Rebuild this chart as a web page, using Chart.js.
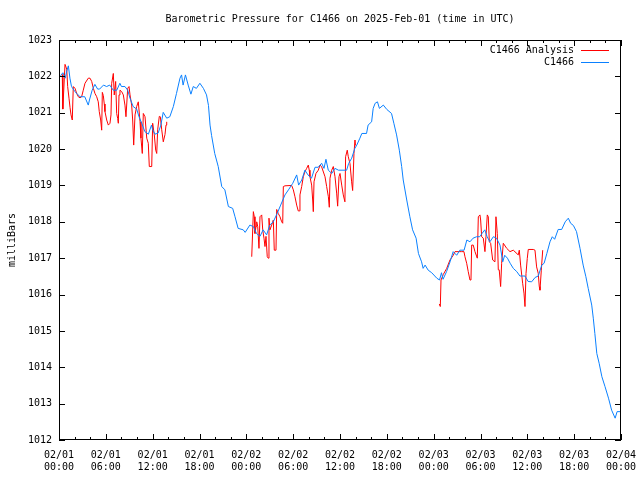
<!DOCTYPE html>
<html>
<head>
<meta charset="utf-8">
<script src="https://cdn.jsdelivr.net/npm/chart.js@4.4.1/dist/chart.umd.min.js"></script>
<style>
  body { margin: 0; background: #fff; }
  canvas { display: block; }
</style>
</head>
<body>
<canvas id="pressure" width="640" height="480"></canvas>
<script>
// hours since 2025-02-01 00:00 UTC, pressure in millibars
var titleText = "Barometric Pressure for C1466 on 2025-Feb-01 (time in UTC)";
var stationName = "C1466";
var analysisName = "C1466 Analysis";

var stationHours = [
  0.2, 0.5, 0.8, 1.0, 1.2, 1.4, 1.6, 2.05, 2.4, 2.7, 3.3, 3.75, 3.9, 4.25, 4.6, 4.95, 5.2, 5.7, 6.1, 6.5,
  6.95, 7.4, 7.8, 8.0, 8.45, 8.8, 9.1, 9.5, 9.95, 10.25, 10.6, 11.0, 11.45, 11.85, 12.0, 12.3, 12.7, 13.05, 13.35, 13.8,
  14.2, 14.65, 15.05, 15.5, 15.7, 15.9, 16.2, 16.55, 16.9, 17.2, 17.6, 18.05, 18.5, 18.9, 19.15, 19.35, 19.55, 19.95, 20.4, 20.85,
  21.25, 21.7, 22.25, 22.55, 22.95, 23.6, 23.85, 24.45, 24.9, 25.3, 25.75, 26.15, 26.6, 27.0, 27.45, 27.95, 28.4, 28.95, 29.4, 29.95,
  30.45, 30.7, 31.1, 31.5, 31.9, 32.35, 32.8, 33.2, 33.65, 33.95, 34.2, 34.5, 34.95, 35.35, 35.8, 36.85, 37.1, 37.5, 37.9, 38.15,
  38.55, 38.8, 39.4, 39.6, 40.05, 40.25, 40.5, 40.8, 41.05, 41.55, 42.0, 42.6, 42.9, 43.25, 43.6, 43.9, 44.1, 44.55, 44.95, 45.3,
  45.75, 46.05, 46.45, 46.65, 46.9, 47.3, 47.75, 48.4, 48.75, 49.0, 49.2, 49.65, 50.1, 50.5, 50.95, 51.35, 51.9, 52.25, 52.65, 53.05,
  53.5, 53.9, 54.2, 54.55, 54.85, 55.2, 55.65, 56.05, 56.5, 56.85, 57.1, 57.45, 57.8, 58.2, 58.65, 59.05, 59.7, 60.1, 60.55, 61.0,
  61.4, 61.85, 62.15, 62.5, 62.9, 63.2, 63.5, 63.95, 64.4, 64.85, 65.25, 65.55, 65.9, 66.3, 66.75, 67.15, 67.5, 67.8, 68.25, 68.45,
  68.65, 68.9, 69.2, 69.55, 69.95, 70.4, 70.8, 71.25, 71.5, 72.0
];
var stationPressure = [
  1022.02, 1022.10, 1021.95, 1022.15, 1022.29, 1021.95, 1021.72, 1021.58, 1021.50, 1021.44, 1021.44, 1021.21, 1021.35, 1021.62, 1021.78, 1021.65, 1021.65, 1021.76, 1021.72, 1021.76,
  1021.62, 1021.62, 1021.81, 1021.72, 1021.72, 1021.62, 1021.40, 1021.17, 1021.10, 1020.89, 1020.71, 1020.48, 1020.41, 1020.66, 1020.53, 1020.41, 1020.44, 1020.66, 1021.01, 1020.85,
  1020.89, 1021.17, 1021.53, 1021.95, 1022.04, 1021.76, 1022.04, 1021.76, 1021.51, 1021.72, 1021.67, 1021.81, 1021.67, 1021.49, 1021.20, 1020.66, 1020.37, 1019.88, 1019.52, 1018.97,
  1018.88, 1018.42, 1018.37, 1018.14, 1017.82, 1017.78, 1017.71, 1017.91, 1017.87, 1017.68, 1017.60, 1017.78, 1017.64, 1017.91, 1018.00, 1018.23, 1018.46, 1018.74, 1018.88, 1019.06,
  1019.29, 1019.01, 1019.15, 1019.42, 1019.29, 1019.20, 1019.50, 1019.50, 1019.61, 1019.47, 1019.72, 1019.42, 1019.33, 1019.47, 1019.42, 1019.42, 1019.60, 1019.75, 1020.02, 1020.11,
  1020.30, 1020.43, 1020.43, 1020.66, 1020.75, 1021.12, 1021.26, 1021.30, 1021.12, 1021.21, 1021.09, 1020.98, 1020.71, 1020.39, 1019.97, 1019.52, 1019.15, 1018.60, 1018.14, 1017.78,
  1017.55, 1017.13, 1016.90, 1016.72, 1016.81, 1016.67, 1016.60, 1016.45, 1016.40, 1016.60, 1016.42, 1016.63, 1016.90, 1017.18, 1017.08, 1017.22, 1017.22, 1017.50, 1017.45, 1017.55,
  1017.59, 1017.59, 1017.68, 1017.78, 1017.59, 1017.45, 1017.59, 1017.55, 1017.36, 1016.90, 1017.08, 1017.00, 1016.86, 1016.72, 1016.63, 1016.51, 1016.51, 1016.36, 1016.35, 1016.47,
  1016.51, 1016.81, 1016.86, 1017.13, 1017.45, 1017.59, 1017.52, 1017.79, 1017.79, 1018.00, 1018.10, 1017.96, 1017.90, 1017.73, 1017.27, 1016.81, 1016.49, 1016.17, 1015.71, 1015.35,
  1014.93, 1014.38, 1014.11, 1013.74, 1013.47, 1013.15, 1012.82, 1012.60, 1012.78, 1012.78
];

// analysis only exists in three windows; null breaks the line between them
var analysisHours = [
  0.42, 0.49, 0.77, 0.99, 1.11, 1.28, 1.41, 1.54, 1.7, 1.83, 2.05, 2.27, 2.47, 2.69, 2.9, 3.11, 3.33, 3.75, 3.97, 4.19,
  4.4, 4.61, 4.83, 5.03, 5.16, 5.34, 5.47, 5.55, 5.68, 5.8, 5.89, 6.11, 6.32, 6.53, 6.66, 6.75, 6.96, 7.08, 7.26, 7.39,
  7.52, 7.6, 7.69, 7.81, 8.03, 8.24, 8.45, 8.58, 8.8, 8.97, 9.1, 9.31, 9.44, 9.57, 9.74, 9.95, 10.16, 10.38, 10.5, 10.67,
  10.8, 11.02, 11.24, 11.44, 11.57, 11.88, 12.0, 12.21, 12.39, 12.52, 12.64, 12.85, 12.98, 13.16, 13.36, 13.58, 13.71, 13.8,
  19.0,
  24.69, 24.77, 24.9, 25.02, 25.11, 25.24, 25.33, 25.46, 25.62, 25.75, 25.97, 26.1, 26.26, 26.39, 26.52, 26.68, 26.81, 26.9, 27.03, 27.25,
  27.46, 27.58, 27.8, 27.89, 28.09, 28.31, 28.53, 28.66, 28.74, 28.95, 29.81, 30.02, 30.23, 30.45, 30.65, 30.78, 30.87, 31.09, 31.3, 31.51,
  31.73, 31.94, 32.06, 32.15, 32.37, 32.5, 32.58, 32.67, 32.92, 33.22, 33.44, 33.65, 34.08, 34.29, 34.51, 34.63, 34.72, 34.94, 35.14, 35.36,
  35.57, 35.7, 35.87, 36.0, 36.22, 36.42, 36.63, 36.72, 36.93, 37.06, 37.28, 37.49, 37.62, 37.79, 37.92, 37.98,
  43.0,
  48.72, 48.85, 48.94, 49.23, 49.67, 50.09, 50.51, 50.73, 51.59, 51.88, 52.01, 52.23, 52.43, 52.65, 52.78, 52.87, 53.07, 53.29, 53.59, 53.72,
  53.93, 54.02, 54.15, 54.36, 54.57, 54.7, 54.87, 55.0, 55.13, 55.3, 55.56, 55.85, 55.98, 56.15, 56.28, 56.4, 56.58, 56.71, 56.92, 57.36,
  57.78, 58.2, 58.84, 58.97, 59.14, 59.4, 59.57, 59.7, 59.83, 59.99, 60.12, 60.76, 60.98, 61.19, 61.4, 61.53, 61.62, 61.79, 61.97
];
var analysisPressure = [
  1022.05, 1021.10, 1022.33, 1022.20, 1021.72, 1021.40, 1021.15, 1020.94, 1020.80, 1021.72, 1021.67, 1021.53, 1021.44, 1021.41, 1021.44, 1021.62, 1021.81, 1021.95, 1021.95, 1021.86,
  1021.67, 1021.53, 1021.44, 1021.30, 1021.03, 1020.80, 1020.52, 1021.56, 1021.47, 1021.24, 1021.03, 1020.80, 1020.66, 1020.71, 1020.94, 1021.81, 1022.08, 1021.49, 1021.86, 1020.98,
  1020.84, 1020.71, 1021.49, 1021.62, 1021.58, 1021.49, 1021.21, 1020.89, 1021.67, 1021.72, 1021.49, 1021.21, 1020.80, 1020.11, 1020.94, 1021.17, 1021.30, 1020.75, 1020.30, 1019.88,
  1020.98, 1020.89, 1020.30, 1020.16, 1019.52, 1019.52, 1020.71, 1020.39, 1019.97, 1019.88, 1020.53, 1020.90, 1020.89, 1020.53, 1020.20, 1020.40, 1020.66, 1020.75,
  null,
  1017.04, 1017.50, 1018.28, 1018.14, 1017.68, 1017.87, 1018.00, 1017.87, 1017.27, 1018.14, 1018.19, 1017.78, 1017.55, 1017.32, 1017.60, 1017.04, 1017.00, 1018.10, 1017.78, 1017.91,
  1018.05, 1017.22, 1017.22, 1018.34, 1018.23, 1018.14, 1018.00, 1017.96, 1018.97, 1018.99, 1019.00, 1018.88, 1018.69, 1018.46, 1018.30, 1018.30, 1018.74, 1018.97, 1019.24, 1019.38,
  1019.47, 1019.56, 1019.42, 1019.24, 1019.01, 1018.60, 1018.28, 1019.10, 1019.33, 1019.42, 1019.56, 1019.51, 1019.24, 1018.97, 1018.69, 1018.40, 1019.20, 1019.42, 1019.52, 1019.24,
  1018.79, 1018.43, 1019.24, 1019.33, 1019.01, 1018.74, 1018.55, 1019.79, 1019.97, 1019.79, 1019.60, 1019.10, 1018.86, 1019.88, 1020.25, 1020.10,
  null,
  1015.74, 1015.67, 1016.40, 1016.55, 1016.72, 1016.95, 1017.08, 1017.18, 1017.18, 1017.18, 1017.04, 1016.86, 1016.63, 1016.40, 1016.40, 1017.36, 1017.36, 1017.18, 1017.00, 1018.14,
  1018.19, 1018.05, 1017.59, 1017.55, 1017.18, 1017.59, 1018.19, 1018.14, 1017.45, 1017.41, 1016.95, 1016.90, 1018.14, 1017.68, 1016.68, 1016.68, 1016.22, 1016.86, 1017.41, 1017.27,
  1017.18, 1017.22, 1017.09, 1017.22, 1016.81, 1016.31, 1016.04, 1015.67, 1016.58, 1016.99, 1017.24, 1017.24, 1017.22, 1016.76, 1016.58, 1016.22, 1016.12, 1016.67, 1017.22
];

function toPoints(hours, values) {
  return hours.map(function (h, i) { return { x: h, y: values[i] }; });
}

function tickLabel(value) {
  if (value % 6 !== 0) return "";
  var day = 1 + Math.floor(value / 24);
  var hour = value % 24;
  return ["02/0" + day, (hour < 10 ? "0" : "") + hour + ":00"];
}

// gnuplot style frame: inward ticks on all four sides, mirrored
var framePlugin = {
  id: "frame",
  afterDatasetsDraw: function (chart) {
    var ctx = chart.ctx, a = chart.chartArea;
    var xs = chart.scales.x, ys = chart.scales.y;
    ctx.save();
    ctx.strokeStyle = "#000";
    ctx.lineWidth = 1;
    ctx.strokeRect(Math.round(a.left) + 0.5, Math.round(a.top) + 0.5,
      Math.round(a.right - a.left) - 1, Math.round(a.bottom - a.top) - 1);
    ctx.beginPath();
    xs.ticks.forEach(function (t) {
      var px = Math.round(xs.getPixelForValue(t.value)) + 0.5;
      var len = t.value % 6 === 0 ? 6 : 3;
      ctx.moveTo(px, a.bottom); ctx.lineTo(px, a.bottom - len);
      ctx.moveTo(px, a.top); ctx.lineTo(px, a.top + len);
    });
    ys.ticks.forEach(function (t) {
      var py = Math.round(ys.getPixelForValue(t.value)) + 0.5;
      ctx.moveTo(a.left, py); ctx.lineTo(a.left + 6, py);
      ctx.moveTo(a.right, py); ctx.lineTo(a.right - 6, py);
    });
    ctx.stroke();
    ctx.restore();
  },
  afterDraw: function (chart) {
    var ctx = chart.ctx, a = chart.chartArea;
    ctx.save();
    ctx.font = "10px 'DejaVu Sans Mono'";
    ctx.fillStyle = "#000";
    ctx.textBaseline = "middle";
    ctx.textAlign = "center";
    ctx.fillText(titleText, (a.left + a.right) / 2, 19);
    // key in the top right corner, text then line sample
    var order = [0, 1];
    order.forEach(function (di, row) {
      var ds = chart.data.datasets[di];
      var y = 50 + row * 12;
      ctx.textAlign = "right";
      ctx.fillStyle = "#000";
      ctx.fillText(ds.label, a.right - 47, y);
      ctx.strokeStyle = ds.borderColor;
      ctx.lineWidth = 1;
      ctx.beginPath();
      ctx.moveTo(a.right - 40, y + 0.5);
      ctx.lineTo(a.right - 12, y + 0.5);
      ctx.stroke();
    });
    ctx.restore();
  }
};

Chart.defaults.font.family = "'DejaVu Sans Mono'";
Chart.defaults.font.size = 10;
Chart.defaults.color = "#000";

new Chart(document.getElementById("pressure").getContext("2d"), {
  type: "line",
  data: {
    datasets: [
      {
        label: analysisName,
        data: toPoints(analysisHours, analysisPressure),
        borderColor: "#ff0000",
        borderWidth: 1,
        pointRadius: 0,
        spanGaps: false,
        order: 1
      },
      {
        label: stationName,
        data: toPoints(stationHours, stationPressure),
        borderColor: "#0a80ff",
        borderWidth: 1,
        pointRadius: 0,
        order: 0
      }
    ]
  },
  options: {
    responsive: false,
    animation: false,
    layout: { padding: { top: 40, right: 19, left: 0, bottom: 0 } },
    plugins: {
      legend: { display: false },
      tooltip: { enabled: false }
    },
    scales: {
      x: {
        type: "linear",
        min: 0,
        max: 72,
        grid: { drawOnChartArea: false, drawTicks: false },
        border: { display: false },
        ticks: {
          stepSize: 2,
          autoSkip: false,
          maxRotation: 0,
          padding: 9,
          callback: tickLabel
        },
        afterFit: function (s) {
          s.height = 40;
          s.paddingLeft = 0;
          s.paddingRight = 0;
        }
      },
      y: {
        min: 1012,
        max: 1023,
        grid: { drawOnChartArea: false, drawTicks: false },
        border: { display: false },
        ticks: {
          stepSize: 1,
          padding: 7,
          callback: function (v) { return String(v); }
        },
        title: { display: true, text: "milliBars", padding: { top: 6, bottom: 0 } },
        afterFit: function (s) {
          s.width = 59;
          s.paddingTop = 0;
          s.paddingBottom = 0;
        }
      }
    }
  },
  plugins: [framePlugin]
});
</script>
</body>
</html>
